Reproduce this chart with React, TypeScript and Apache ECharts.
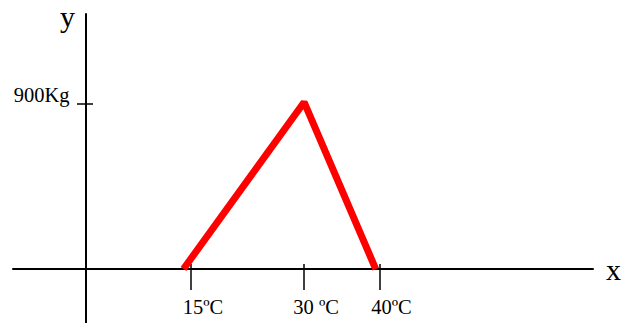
import React, { useEffect, useRef } from "react";
import * as echarts from "echarts";

const temps = [14, 30, 39.5];
const weights = [0, 910, 0];
const xTicks = [15, 30, 40];
const xTickLabels = ["15ºC", "30 ºC", "40ºC"];
const yTicks = [900];
const yTickLabels = ["900Kg"];

const FONT = '"Liberation Serif", "Times New Roman", serif';

export default function App() {
  const ref = useRef<HTMLDivElement>(null);
  useEffect(() => {
    if (!ref.current) return;
    const chart = echarts.init(ref.current, null, { renderer: "svg" });
    const xMin = -8.61;
    const xMax = 68.32;
    const yMin = -294.5;
    const yMax = 1391;
    const xLabel = (v: number) => {
      const i = xTicks.indexOf(v);
      return i >= 0 ? `{p| }{t|${xTickLabels[i]}}` : "";
    };
    const yLabel = (v: number) => {
      const i = yTicks.indexOf(v);
      return i >= 0 ? yTickLabels[i] : "";
    };
    chart.setOption({
      animation: false,
      grid: {
        left: 13,
        top: 14,
        width: 580,
        height: 309,
        containLabel: false,
        outerBoundsMode: "none",
      },
      xAxis: [
        {
          type: "value",
          min: xMin,
          max: xMax,
          position: "bottom",
          offset: -54,
          name: "x",
          nameLocation: "end",
          nameGap: 13,
          nameTextStyle: {
            fontFamily: FONT,
            fontSize: 30,
            color: "#000",
            align: "left",
            verticalAlign: "middle",
            padding: [12, 0, 0, 0],
          },
          axisLine: {
            show: true,
            onZero: false,
            lineStyle: { color: "#000", width: 2 },
          },
          axisTick: {
            show: true,
            customValues: xTicks,
            length: 21,
            lineStyle: { color: "#000", width: 1.5 },
          },
          axisLabel: {
            show: true,
            customValues: xTicks,
            formatter: xLabel,
            margin: 27.5,
            align: "center",
            verticalAlign: "top",
            lineHeight: 20,
            rich: {
              p: { width: 24, fontSize: 20.5, fontFamily: FONT, lineHeight: 20 },
              t: { fontSize: 20.5, fontFamily: FONT, color: "#000", lineHeight: 20 },
            },
          },
          splitLine: { show: false },
        },
        {
          type: "value",
          min: xMin,
          max: xMax,
          position: "bottom",
          offset: -54,
          axisLine: { show: false, onZero: false },
          axisTick: {
            show: true,
            inside: true,
            customValues: xTicks,
            length: 5,
            lineStyle: { color: "#000", width: 1.5 },
          },
          axisLabel: { show: false },
          splitLine: { show: false },
        },
      ],
      yAxis: [
        {
          type: "value",
          min: yMin,
          max: yMax,
          position: "left",
          offset: -72.5,
          name: "y",
          nameLocation: "end",
          nameGap: -2,
          nameTextStyle: {
            fontFamily: FONT,
            fontSize: 30,
            color: "#000",
            align: "right",
            verticalAlign: "middle",
            padding: [0, 10.5, 0, 0],
          },
          axisLine: {
            show: true,
            onZero: false,
            lineStyle: { color: "#000", width: 2 },
          },
          axisTick: {
            show: true,
            customValues: yTicks,
            length: 8.5,
            lineStyle: { color: "#000", width: 1.5 },
          },
          axisLabel: {
            show: true,
            customValues: yTicks,
            formatter: yLabel,
            margin: 16,
            verticalAlign: "bottom",
            lineHeight: 18,
            fontSize: 20.5,
            fontFamily: FONT,
            color: "#000",
          },
          splitLine: { show: false },
        },
        {
          type: "value",
          min: yMin,
          max: yMax,
          position: "left",
          offset: -72.5,
          axisLine: { show: false, onZero: false },
          axisTick: {
            show: true,
            inside: true,
            customValues: yTicks,
            length: 7.5,
            lineStyle: { color: "#000", width: 1.5 },
          },
          axisLabel: { show: false },
          splitLine: { show: false },
        },
      ],
      series: [
        {
          type: "line",
          xAxisIndex: 0,
          yAxisIndex: 0,
          data: temps.map((t, i) => [t, weights[i]]),
          showSymbol: false,
          symbol: "none",
          clip: false,
          lineStyle: { color: "#ff0000", width: 7, cap: "butt", join: "bevel" },
        },
      ],
    });
    return () => chart.dispose();
  }, []);
  return (
    <div
      ref={ref}
      style={{ position: "fixed", left: 0, top: 0, width: 622, height: 323, background: "#fff" }}
    />
  );
}
